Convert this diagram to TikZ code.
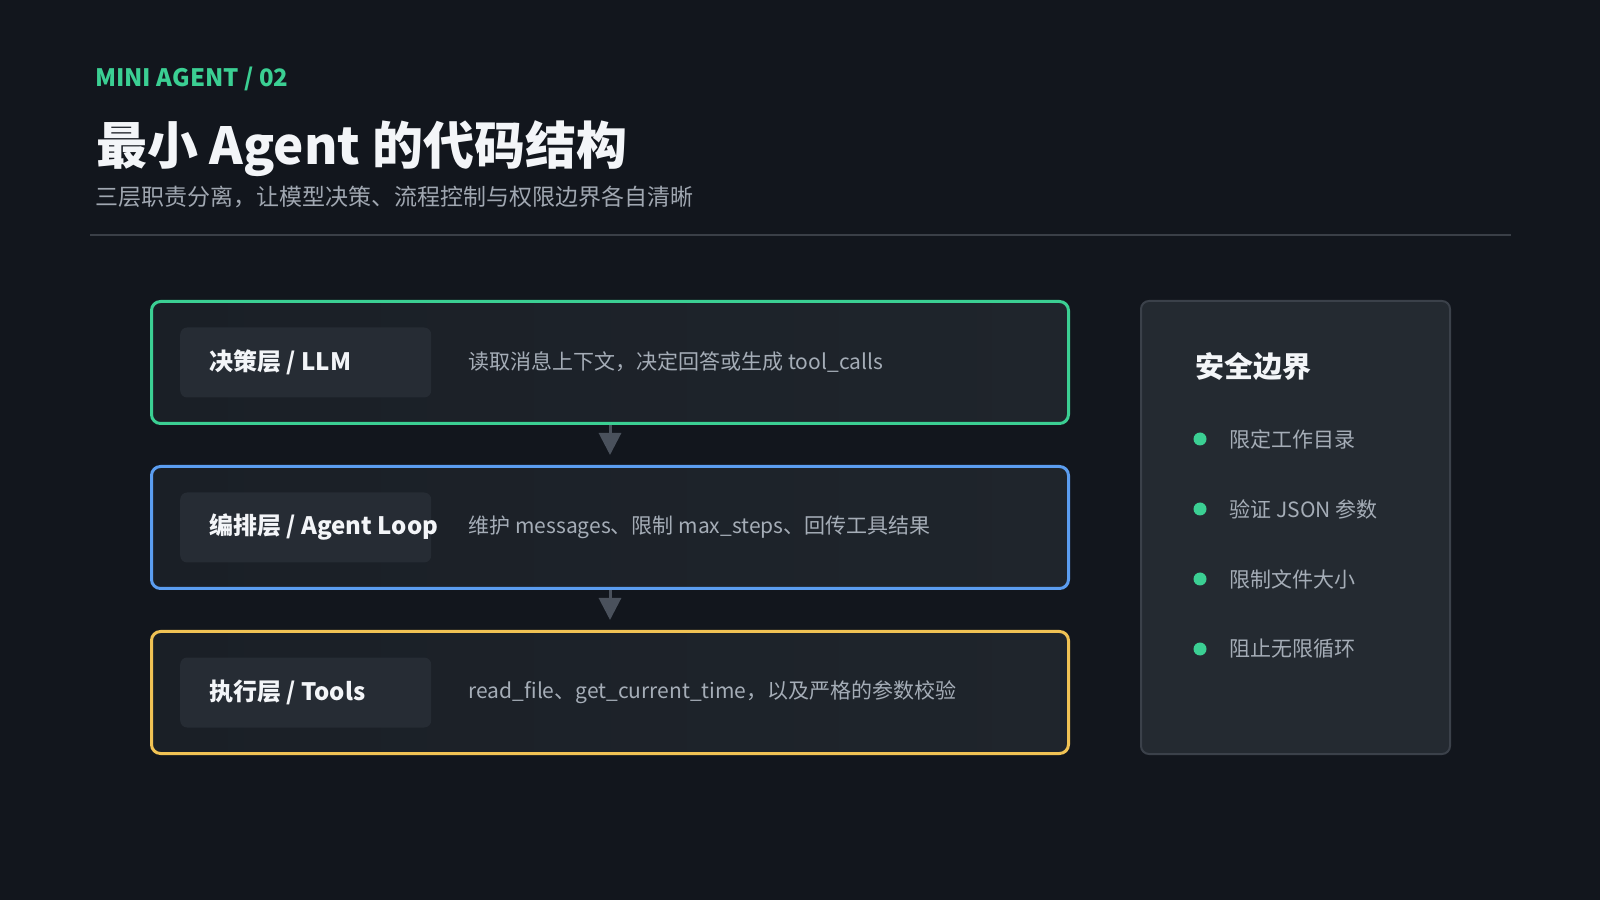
\documentclass[tikz,border=0pt]{standalone}
\usepackage{fontspec}
\setmainfont{Noto Sans CJK SC}
\usetikzlibrary{positioning,arrows.meta}
\definecolor{bg}{HTML}{12161D}
\definecolor{accent}{HTML}{3BCF93}
\definecolor{loopblue}{HTML}{5B9DF0}
\definecolor{execyellow}{HTML}{F0C254}
\definecolor{layerL}{HTML}{1A1F26}
\definecolor{layerR}{HTML}{1F252C}
\definecolor{tagfill}{HTML}{262C34}
\definecolor{panelfill}{HTML}{242A31}
\definecolor{panelline}{HTML}{3B414A}
\definecolor{rulegray}{HTML}{3A3F47}
\definecolor{arrowgray}{HTML}{4A515C}
\definecolor{headwhite}{HTML}{F3F5F8}
\definecolor{subgray}{HTML}{A0A7B1}
\definecolor{descgray}{HTML}{A5ADB7}

\begin{document}
\begin{tikzpicture}[x=1pt, y=1pt, node distance=40pt,
    layerbox/.style={rectangle, rounded corners=9pt, line width=3pt, minimum width=917pt, minimum height=122pt, left color=layerL, right color=layerR},
    tagbox/.style={rectangle, rounded corners=7pt, fill=tagfill, minimum width=251pt, minimum height=70pt, inner sep=0pt},
    tagtext/.style={inner sep=0pt, anchor=west, text=headwhite, font=\bfseries\fontsize{24}{28}\selectfont},
    desctext/.style={inner sep=0pt, anchor=west, text=descgray, font=\fontsize{21}{26}\selectfont},
    panel/.style={rectangle, rounded corners=8pt, line width=2pt, draw=panelline, fill=panelfill, minimum width=309pt, minimum height=453pt},
    bulletdot/.style={circle, fill=accent, minimum size=13pt, inner sep=0pt},
    itemtext/.style={inner sep=0pt, anchor=west, text=descgray, font=\fontsize{21}{26}\selectfont},
    flow/.style={draw=arrowgray, line width=3pt, -{Triangle[width=22pt,length=22pt]}}]
    \fill[bg] (0,0) rectangle (1600,900);
    \useasboundingbox (0,0) rectangle (1600,900);

    \node[anchor=west, inner sep=0pt, text=accent, font=\bfseries\fontsize{24}{28}\selectfont] (kicker) at (95,821) {MINI AGENT / 02};
    \node[anchor=west, inner sep=0pt, text=headwhite, font=\bfseries\fontsize{51}{60}\selectfont] (title) at (96,751) {最小 Agent 的代码结构};
    \node[anchor=west, inner sep=0pt, text=subgray, font=\fontsize{23}{28}\selectfont] (subtitle) at (95,703) {三层职责分离，让模型决策、流程控制与权限边界各自清晰};
    \draw[rulegray, line width=2pt] (90,665) -- (1511,665);

    \node[layerbox, draw=accent] (decide) at (610,537.5) {};
    \node[layerbox, draw=loopblue] (loop) [below=of decide] {};
    \node[layerbox, draw=execyellow] (exec) [below=of loop] {};

    \node[tagbox] (decideTag) [right=30pt of decide.west] {};
    \node[tagbox] (loopTag) [right=30pt of loop.west] {};
    \node[tagbox] (execTag) [right=30pt of exec.west] {};

    \node[tagtext] (decideName) [right=29pt of decideTag.west] {决策层 / LLM};
    \node[tagtext] (loopName) [right=29pt of loopTag.west] {编排层 / Agent Loop};
    \node[tagtext] (execName) [right=29pt of execTag.west] {执行层 / Tools};

    \node[desctext] (decideDesc) [right=37pt of decideTag.east] {读取消息上下文，决定回答或生成 tool\_calls};
    \node[desctext] (loopDesc) [right=37pt of loopTag.east] {维护 messages、限制 max\_steps、回传工具结果};
    \node[desctext] (execDesc) [right=37pt of execTag.east] {read\_file、get\_current\_time，以及严格的参数校验};

    \draw[flow] (decide.south) -- ([yshift=10pt]loop.north);
    \draw[flow] (loop.south) -- ([yshift=10pt]exec.north);

    \node[panel] (guard) [right=70pt of loop] {};
    \node[anchor=west, inner sep=0pt, text=headwhite, font=\bfseries\fontsize{29}{34}\selectfont] (guardTitle) at ([xshift=55pt, yshift=-67pt]guard.north west) {安全边界};
    \foreach \entry [count=\i] in {限定工作目录, 验证 JSON 参数, 限制文件大小, 阻止无限循环} {
        \node[bulletdot] (dot\i) at ([xshift=60pt, yshift={-139pt-70pt*(\i-1)}]guard.north west) {};
        \node[itemtext] (entry\i) [right=23pt of dot\i] {\entry};
    }
\end{tikzpicture}
\end{document}
